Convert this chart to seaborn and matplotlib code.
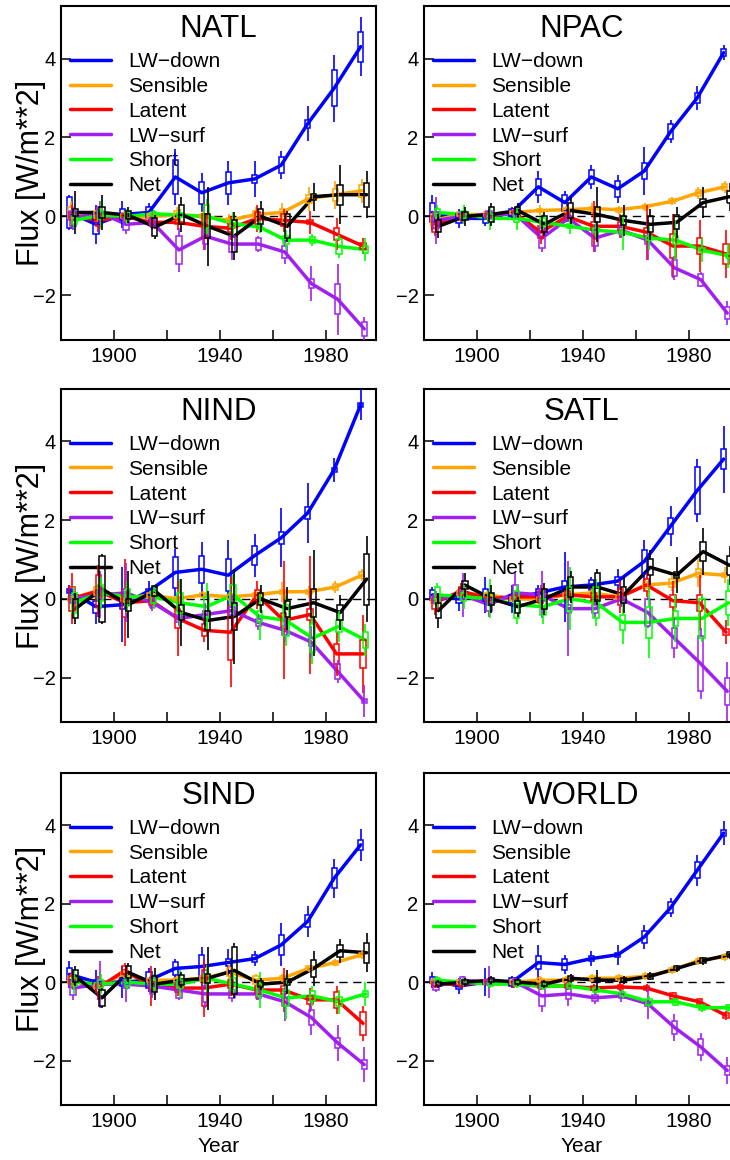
import numpy as np
import pandas as pd
import matplotlib
matplotlib.use('Agg')
import matplotlib.pyplot as plt
import seaborn as sns

# ---------------------------------------------------------------
# Data: decadal flux anomalies (W/m**2), median line + box / whisker half-heights
# rows = series (LW-down, Sensible, Latent, LW-surf, Short, Net)
# ---------------------------------------------------------------
decades = [1885, 1895, 1905, 1915, 1925, 1935, 1945, 1955, 1965, 1975, 1985, 1995]
series = ['LW\u2212down', 'Sensible', 'Latent', 'LW\u2212surf', 'Short', 'Net']
colors = ['#0000FF', '#FFA500', '#FF0000', '#A020F0', '#00FF00', '#000000']
offsets = [-1.8, -1.35, -0.9, -0.45, 0.0, 0.45]
regions = ['NATL', 'NPAC', 'NIND', 'SATL', 'SIND', 'WORLD']

natl_mid = [
    [0.1, -0.2, 0.05, 0.1, 1.0, 0.6, 0.85, 0.95, 1.3, 2.35, 3.25, 4.3],
    [0.1, 0.05, 0.0, 0.0, 0.05, 0.0, -0.1, 0.05, 0.1, 0.45, 0.55, 0.65],
    [0.0, -0.1, 0.0, -0.15, -0.15, -0.25, -0.3, -0.05, -0.1, -0.15, -0.45, -0.75],
    [-0.05, 0.1, -0.2, -0.15, -0.85, -0.5, -0.7, -0.7, -0.9, -1.7, -2.1, -2.85],
    [-0.1, 0.03, 0.0, 0.07, 0.03, 0.0, -0.18, -0.27, -0.6, -0.6, -0.76, -0.84],
    [0.1, 0.1, 0.03, -0.27, 0.05, -0.25, -0.5, 0.0, -0.25, 0.5, 0.55, 0.55],
]
natl_box = [
    [0.4, 0.25, 0.13, 0.15, 0.42, 0.28, 0.28, 0.1, 0.2, 0.1, 0.45, 0.38],
    [0.15, 0.1, 0.05, 0.05, 0.1, 0.05, 0.05, 0.1, 0.1, 0.1, 0.15, 0.15],
    [0.1, 0.15, 0.05, 0.05, 0.05, 0.3, 0.1, 0.15, 0.15, 0.05, 0.15, 0.08],
    [0.2, 0.15, 0.15, 0.1, 0.35, 0.2, 0.2, 0.15, 0.15, 0.12, 0.38, 0.18],
    [0.1, 0.1, 0.1, 0.05, 0.05, 0.3, 0.1, 0.05, 0.1, 0.08, 0.18, 0.08],
    [0.1, 0.15, 0.1, 0.23, 0.25, 0.3, 0.4, 0.2, 0.3, 0.08, 0.25, 0.3],
]
natl_whisk = [
    [0.45, 0.5, 0.35, 0.25, 0.7, 0.5, 0.55, 0.45, 0.35, 0.45, 0.85, 0.75],
    [0.3, 0.2, 0.15, 0.1, 0.2, 0.15, 0.15, 0.2, 0.25, 0.3, 0.35, 0.3],
    [0.3, 0.3, 0.15, 0.15, 0.2, 0.6, 0.3, 0.35, 0.3, 0.3, 0.4, 0.2],
    [0.3, 0.3, 0.25, 0.2, 0.55, 0.35, 0.4, 0.2, 0.3, 0.45, 0.9, 0.3],
    [0.2, 0.35, 0.2, 0.1, 0.15, 0.45, 0.3, 0.15, 0.25, 0.15, 0.3, 0.3],
    [0.55, 0.45, 0.2, 0.3, 0.45, 1.0, 0.6, 0.4, 0.4, 0.35, 0.75, 0.6],
]

npac_mid = [
    [0.1, -0.05, -0.05, 0.1, 0.75, 0.35, 1.0, 0.7, 1.15, 2.15, 3.0, 4.15],
    [-0.1, 0.05, 0.05, 0.1, 0.15, 0.17, 0.2, 0.17, 0.25, 0.38, 0.6, 0.75],
    [-0.2, 0.0, 0.0, 0.1, -0.4, 0.0, -0.25, -0.25, -0.4, -0.75, -0.75, -0.95],
    [-0.1, 0.0, 0.05, 0.05, -0.55, -0.05, -0.55, -0.35, -0.6, -1.3, -1.6, -2.45],
    [0.1, 0.05, -0.05, -0.05, -0.15, -0.25, -0.35, -0.4, -0.55, -0.6, -0.85, -1.0],
    [-0.25, 0.0, 0.05, 0.15, -0.2, 0.15, 0.05, -0.1, -0.2, -0.15, 0.35, 0.5],
]
npac_box = [
    [0.25, 0.12, 0.12, 0.08, 0.2, 0.2, 0.18, 0.2, 0.2, 0.2, 0.12, 0.08],
    [0.15, 0.05, 0.05, 0.05, 0.05, 0.05, 0.05, 0.05, 0.05, 0.05, 0.08, 0.08],
    [0.2, 0.05, 0.05, 0.05, 0.15, 0.05, 0.1, 0.1, 0.1, 0.3, 0.2, 0.25],
    [0.2, 0.1, 0.1, 0.05, 0.25, 0.05, 0.2, 0.1, 0.1, 0.2, 0.15, 0.15],
    [0.1, 0.1, 0.1, 0.1, 0.1, 0.05, 0.05, 0.05, 0.05, 0.1, 0.05, 0.05],
    [0.15, 0.1, 0.2, 0.08, 0.2, 0.2, 0.2, 0.12, 0.2, 0.18, 0.1, 0.15],
]
npac_whisk = [
    [0.45, 0.25, 0.2, 0.15, 0.4, 0.3, 0.3, 0.35, 0.6, 0.3, 0.3, 0.2],
    [0.25, 0.1, 0.1, 0.1, 0.15, 0.1, 0.15, 0.1, 0.1, 0.1, 0.15, 0.15],
    [0.3, 0.15, 0.15, 0.1, 0.3, 0.15, 0.65, 0.3, 0.7, 0.8, 0.65, 0.6],
    [0.6, 0.15, 0.15, 0.1, 0.35, 0.1, 0.35, 0.2, 0.5, 0.3, 0.2, 0.3],
    [0.2, 0.25, 0.3, 0.3, 0.2, 0.2, 0.2, 0.45, 0.3, 0.5, 0.3, 0.3],
    [0.3, 0.25, 0.3, 0.2, 0.3, 0.35, 0.7, 0.4, 0.4, 0.4, 0.4, 0.35],
]

nind_mid = [
    [0.2, -0.2, -0.15, 0.2, 0.67, 0.75, 0.6, 1.1, 1.55, 2.18, 3.28, 4.93],
    [0.0, 0.2, 0.0, 0.1, 0.0, 0.1, 0.05, 0.1, 0.18, 0.18, 0.3, 0.6],
    [0.0, 0.2, -0.1, -0.05, -0.5, -0.8, -0.85, 0.1, -0.55, -0.4, -1.4, -1.4],
    [0.0, 0.1, 0.15, -0.1, -0.5, -0.4, -0.3, -0.6, -0.8, -1.1, -1.85, -2.6],
    [-0.1, 0.15, 0.05, 0.05, -0.1, -0.2, 0.1, -0.45, -0.55, -1.0, -0.7, -1.05],
    [-0.25, 0.25, -0.15, 0.2, -0.35, -0.55, -0.45, 0.0, -0.25, -0.1, -0.35, 0.5],
]
nind_box = [
    [0.05, 0.15, 0.1, 0.05, 0.4, 0.35, 0.4, 0.25, 0.15, 0.15, 0.05, 0.05],
    [0.05, 0.1, 0.05, 0.05, 0.05, 0.05, 0.05, 0.05, 0.05, 0.05, 0.08, 0.08],
    [0.3, 0.4, 0.35, 0.1, 0.25, 0.15, 0.7, 0.12, 0.2, 0.15, 0.25, 0.35],
    [0.1, 0.1, 0.1, 0.1, 0.1, 0.1, 0.1, 0.08, 0.12, 0.1, 0.2, 0.05],
    [0.25, 0.2, 0.2, 0.15, 0.25, 0.25, 0.25, 0.15, 0.4, 0.35, 0.15, 0.2],
    [0.25, 0.85, 0.15, 0.12, 0.18, 0.25, 0.35, 0.15, 0.2, 0.35, 0.2, 0.65],
]
nind_whisk = [
    [0.15, 0.45, 0.95, 0.25, 0.6, 0.7, 0.9, 0.55, 0.75, 0.75, 0.3, 0.4],
    [0.1, 0.15, 0.1, 0.1, 0.1, 0.1, 0.1, 0.1, 0.25, 0.15, 0.15, 0.15],
    [0.65, 0.65, 1.1, 0.2, 0.95, 0.3, 1.4, 0.35, 1.5, 1.5, 0.55, 1.0],
    [0.2, 0.6, 0.75, 0.2, 0.2, 0.3, 0.4, 0.2, 0.3, 0.4, 0.3, 0.4],
    [0.4, 0.4, 0.4, 0.3, 0.6, 0.6, 0.5, 0.6, 0.65, 0.65, 0.4, 0.4],
    [0.4, 0.9, 0.85, 0.15, 0.85, 0.75, 1.2, 0.35, 0.55, 1.35, 0.45, 1.1],
]

satl_mid = [
    [0.1, 0.0, 0.1, 0.0, 0.15, 0.3, 0.35, 0.45, 0.95, 1.85, 2.75, 3.55],
    [-0.05, 0.15, 0.1, 0.0, 0.0, 0.1, 0.15, 0.05, 0.35, 0.4, 0.65, 0.6],
    [-0.1, 0.2, 0.0, 0.05, 0.05, 0.1, 0.05, 0.05, 0.35, -0.05, -0.1, -0.85],
    [0.0, 0.1, -0.15, 0.15, 0.1, -0.25, -0.25, 0.0, -0.35, -1.0, -1.65, -2.35],
    [0.1, 0.05, 0.0, -0.15, -0.2, 0.0, -0.1, -0.6, -0.6, -0.5, -0.5, -0.1],
    [-0.3, 0.35, 0.0, -0.2, 0.0, 0.3, 0.3, 0.1, 0.8, 0.6, 1.2, 0.85],
]
satl_box = [
    [0.12, 0.1, 0.15, 0.1, 0.1, 0.15, 0.12, 0.1, 0.3, 0.2, 0.6, 0.25],
    [0.05, 0.05, 0.05, 0.05, 0.05, 0.05, 0.05, 0.05, 0.08, 0.1, 0.1, 0.05],
    [0.15, 0.1, 0.05, 0.05, 0.15, 0.1, 0.1, 0.2, 0.15, 0.15, 0.2, 0.08],
    [0.1, 0.1, 0.15, 0.2, 0.15, 0.1, 0.1, 0.05, 0.35, 0.25, 0.7, 0.35],
    [0.2, 0.1, 0.15, 0.35, 0.2, 0.3, 0.4, 0.2, 0.4, 0.2, 0.5, 0.3],
    [0.2, 0.1, 0.15, 0.15, 0.25, 0.25, 0.35, 0.2, 0.2, 0.07, 0.25, 0.25],
]
satl_whisk = [
    [0.2, 0.3, 0.45, 0.35, 0.2, 0.9, 0.2, 0.3, 0.55, 0.5, 0.8, 0.85],
    [0.1, 0.1, 0.1, 0.1, 0.1, 0.1, 0.1, 0.1, 0.15, 0.2, 0.35, 0.2],
    [0.3, 0.2, 0.15, 0.1, 0.3, 0.2, 0.2, 0.4, 0.3, 0.5, 0.7, 0.3],
    [0.2, 0.55, 0.3, 0.5, 0.6, 1.2, 0.2, 0.2, 0.4, 0.5, 0.9, 0.75],
    [0.3, 0.3, 0.5, 0.5, 0.45, 0.8, 0.6, 0.55, 0.9, 0.6, 0.6, 0.6],
    [0.45, 0.3, 0.35, 0.25, 0.4, 0.4, 0.45, 0.45, 0.45, 0.45, 0.6, 0.5],
]

sind_mid = [
    [0.2, 0.0, 0.0, 0.05, 0.35, 0.4, 0.5, 0.6, 0.95, 1.55, 2.65, 3.5],
    [0.05, -0.1, 0.2, 0.05, 0.05, 0.1, 0.25, 0.05, 0.1, 0.35, 0.5, 0.7],
    [0.05, -0.15, 0.3, -0.1, -0.15, -0.15, -0.05, -0.2, -0.2, -0.45, -0.45, -1.05],
    [-0.15, -0.05, -0.05, -0.1, -0.2, -0.3, -0.3, -0.3, -0.5, -0.9, -1.55, -2.1],
    [0.0, -0.05, 0.0, -0.05, -0.05, 0.1, -0.05, -0.2, -0.4, -0.35, -0.5, -0.3],
    [0.15, -0.4, 0.25, -0.05, 0.05, 0.1, 0.3, -0.05, 0.0, 0.35, 0.8, 0.75],
]
sind_box = [
    [0.15, 0.05, 0.1, 0.2, 0.17, 0.3, 0.1, 0.08, 0.25, 0.15, 0.25, 0.12],
    [0.1, 0.05, 0.05, 0.05, 0.05, 0.05, 0.1, 0.1, 0.05, 0.05, 0.05, 0.05],
    [0.1, 0.1, 0.1, 0.1, 0.1, 0.45, 0.1, 0.1, 0.1, 0.1, 0.2, 0.3],
    [0.17, 0.1, 0.1, 0.2, 0.2, 0.2, 0.1, 0.1, 0.1, 0.2, 0.12, 0.12],
    [0.1, 0.1, 0.1, 0.1, 0.1, 0.12, 0.15, 0.15, 0.2, 0.12, 0.12, 0.08],
    [0.15, 0.2, 0.15, 0.2, 0.12, 0.12, 0.6, 0.08, 0.08, 0.22, 0.15, 0.25],
]
sind_whisk = [
    [0.35, 0.3, 0.4, 0.3, 0.25, 0.5, 0.35, 0.2, 0.55, 0.4, 0.5, 0.4],
    [0.15, 0.1, 0.1, 0.1, 0.1, 0.1, 0.2, 0.15, 0.1, 0.1, 0.1, 0.1],
    [0.2, 0.3, 0.2, 0.5, 0.2, 0.75, 0.3, 0.25, 0.55, 0.3, 0.35, 0.45],
    [0.3, 0.6, 0.45, 0.3, 0.25, 0.35, 0.2, 0.15, 0.5, 0.45, 0.45, 0.45],
    [0.3, 0.25, 0.2, 0.25, 0.35, 0.35, 0.3, 0.45, 0.55, 0.25, 0.3, 0.3],
    [0.25, 0.25, 0.25, 0.4, 0.2, 0.8, 0.7, 0.15, 0.3, 0.45, 0.3, 0.5],
]

world_mid = [
    [0.05, -0.1, 0.0, 0.0, 0.5, 0.45, 0.6, 0.7, 1.15, 1.9, 2.85, 3.8],
    [0.0, 0.0, 0.0, 0.0, 0.05, 0.05, 0.1, 0.1, 0.15, 0.3, 0.55, 0.65],
    [-0.05, -0.05, 0.0, -0.05, -0.1, -0.1, -0.15, -0.12, -0.15, -0.35, -0.5, -0.85],
    [-0.1, 0.05, 0.0, 0.0, -0.35, -0.3, -0.4, -0.35, -0.55, -1.15, -1.65, -2.25],
    [0.05, 0.0, -0.05, -0.05, -0.1, -0.1, -0.2, -0.3, -0.5, -0.5, -0.65, -0.65],
    [-0.05, 0.0, 0.05, 0.0, -0.05, 0.1, 0.05, 0.05, 0.15, 0.35, 0.55, 0.7],
]
world_box = [
    [0.08, 0.08, 0.05, 0.1, 0.17, 0.15, 0.07, 0.05, 0.15, 0.15, 0.2, 0.08],
    [0.05, 0.05, 0.05, 0.05, 0.05, 0.05, 0.05, 0.05, 0.05, 0.05, 0.05, 0.05],
    [0.05, 0.05, 0.05, 0.05, 0.05, 0.05, 0.05, 0.05, 0.05, 0.07, 0.06, 0.07],
    [0.1, 0.08, 0.05, 0.08, 0.25, 0.12, 0.08, 0.05, 0.05, 0.17, 0.2, 0.12],
    [0.05, 0.05, 0.05, 0.05, 0.05, 0.05, 0.05, 0.05, 0.08, 0.07, 0.06, 0.06],
    [0.05, 0.05, 0.05, 0.05, 0.05, 0.06, 0.05, 0.05, 0.06, 0.05, 0.06, 0.06],
]
world_whisk = [
    [0.2, 0.2, 0.35, 0.15, 0.45, 0.25, 0.2, 0.25, 0.3, 0.25, 0.4, 0.3],
    [0.1, 0.1, 0.1, 0.1, 0.1, 0.1, 0.1, 0.1, 0.1, 0.1, 0.1, 0.1],
    [0.1, 0.1, 0.1, 0.1, 0.1, 0.1, 0.1, 0.1, 0.1, 0.1, 0.1, 0.12],
    [0.15, 0.1, 0.4, 0.1, 0.4, 0.3, 0.15, 0.15, 0.4, 0.35, 0.35, 0.35],
    [0.1, 0.1, 0.1, 0.1, 0.1, 0.1, 0.1, 0.1, 0.15, 0.1, 0.1, 0.1],
    [0.1, 0.1, 0.1, 0.1, 0.1, 0.1, 0.25, 0.1, 0.1, 0.1, 0.1, 0.1],
]

panel_data = {
    'NATL': (natl_mid, natl_box, natl_whisk),
    'NPAC': (npac_mid, npac_box, npac_whisk),
    'NIND': (nind_mid, nind_box, nind_whisk),
    'SATL': (satl_mid, satl_box, satl_whisk),
    'SIND': (sind_mid, sind_box, sind_whisk),
    'WORLD': (world_mid, world_box, world_whisk),
}

# long table for seaborn
rows = []
for reg in regions:
    mid, box, whisk = panel_data[reg]
    for s, name in enumerate(series):
        for d, dec in enumerate(decades):
            rows.append({'region': reg, 'series': name,
                         'year': dec + offsets[s], 'flux': mid[s][d],
                         'box': box[s][d], 'whisk': whisk[s][d]})
df = pd.DataFrame(rows)

# ---------------------------------------------------------------
# Plot
# ---------------------------------------------------------------
sns.set_style('ticks')
plt.rcParams['font.family'] = ['Liberation Sans', 'DejaVu Sans']
plt.rcParams['axes.unicode_minus'] = True
plt.rcParams['text.color'] = 'black'
plt.rcParams['axes.labelcolor'] = 'black'

fig = plt.figure(figsize=(7.3, 11.6), dpi=100)
W, H = 730.0, 1160.0
col_left = [61, 424]
ax_w = 315
row_top = [6, 389, 773]
row_bot = [340, 722, 1105]

palette = dict(zip(series, colors))

for i, reg in enumerate(regions):
    r, c = divmod(i, 2)
    ax = fig.add_axes([col_left[c] / W, 1 - row_bot[r] / H,
                       ax_w / W, (row_bot[r] - row_top[r]) / H])
    sub = df[df['region'] == reg]

    ax.axhline(0, color='black', lw=1.0, ls=(0, (6, 4)), zorder=1)

    sns.lineplot(data=sub, x='year', y='flux', hue='series', hue_order=series,
                 palette=palette, lw=2.5, estimator=None, sort=False,
                 legend=False, ax=ax, zorder=3)

    for name in series:
        s = sub[sub['series'] == name]
        col = palette[name]
        lo = s['flux'] - s['box']
        ax.bar(s['year'], 2 * s['box'], bottom=lo, width=2.0, fill=False,
               edgecolor=col, linewidth=1.1, zorder=4)
        wk = np.maximum(s['whisk'], s['box'])
        ax.vlines(s['year'], s['flux'] + s['box'], s['flux'] + wk,
                  color=col, lw=1.2, zorder=4)
        ax.vlines(s['year'], s['flux'] - wk, s['flux'] - s['box'],
                  color=col, lw=1.2, zorder=4)

    leg = ax.legend(ax.lines[1:7], series, loc='upper left',
                    bbox_to_anchor=(0.029, 0.862), frameon=False,
                    fontsize=15, handlelength=1.97, handletextpad=0.82,
                    labelspacing=0.28, borderpad=0, borderaxespad=0)
    leg.set_zorder(2)

    ax.text(0.5, 0.906, reg, transform=ax.transAxes, ha='center',
            va='baseline', fontsize=22.5, color='black')

    ax.set_xlim(1880, 1999)
    ax.set_ylim(-3.13, 5.33)
    ax.set_xticks([1900, 1920, 1940, 1960, 1980])
    ax.set_xticklabels(['1900', '', '1940', '', '1980'])
    ax.set_yticks([-2, 0, 2, 4])
    ax.tick_params(direction='in', length=7, width=1.1,
                   color='black', labelcolor='black')
    ax.tick_params(axis='x', pad=5, labelsize=15)
    ax.tick_params(axis='y', pad=4, labelsize=14.5)
    for sp in ax.spines.values():
        sp.set_linewidth(1.5)
        sp.set_color('black')
        sp.set_visible(True)
    ax.grid(False)

    if c == 0:
        ax.set_ylabel('Flux [W/m**2]', fontsize=22)
        ax.yaxis.set_label_coords(-0.047, 0.5)
    else:
        ax.set_ylabel('')
    if r == 2:
        ax.set_xlabel('Year', fontsize=15)
        ax.xaxis.set_label_coords(0.5, -0.095)
    else:
        ax.set_xlabel('')

fig.savefig('out.png', dpi=100)
